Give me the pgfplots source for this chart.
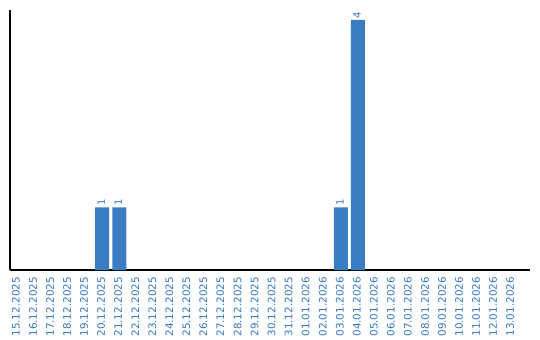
\documentclass[border=0pt]{standalone}
\usepackage{pgfplots}
\pgfplotsset{compat=1.18}
\usepackage{fontspec}
\setmainfont{DejaVu Sans}
\definecolor{barblue}{RGB}{59,125,194}
\definecolor{txtblue}{RGB}{52,120,196}
\begin{document}
\begin{tikzpicture}
\begin{axis}[
  /pgf/number format/assume math mode=true,
  scale only axis,
  width=520bp, height=260bp,
  xmin=-0.41, xmax=30.1,
  ymin=0, ymax=4.16,
  axis x line=bottom, axis y line=left,
  axis line style={black, line width=1.1pt, -},
  ytick=\empty,
  xtick={0,...,29},
  xticklabels={15.12.2025,16.12.2025,17.12.2025,18.12.2025,19.12.2025,20.12.2025,21.12.2025,22.12.2025,23.12.2025,24.12.2025,25.12.2025,26.12.2025,27.12.2025,28.12.2025,29.12.2025,30.12.2025,31.12.2025,01.01.2026,02.01.2026,03.01.2026,04.01.2026,05.01.2026,06.01.2026,07.01.2026,08.01.2026,09.01.2026,10.01.2026,11.01.2026,12.01.2026,13.01.2026},
  major tick length=0pt,
  x tick label style={yshift=-7bp, rotate=90, anchor=mid east, font=\fontsize{10.4}{12}\selectfont, text=txtblue, inner sep=0pt},
  ybar, bar width=14bp,
  nodes near coords,
  nodes near coords style={rotate=90, anchor=mid west, font=\fontsize{10}{12}\selectfont, text=txtblue, inner sep=1.5bp},
  clip=false,
]
\addplot[fill=barblue, draw=none] coordinates {(5,1) (6,1) (19,1) (20,4)};
\coordinate (sw) at (rel axis cs:0,0);
\coordinate (ne) at (rel axis cs:1,1);
\end{axis}
\path ([shift={(-10bp,-70bp)}]sw) rectangle ([shift={(10bp,10bp)}]ne);
\end{tikzpicture}
\end{document}
